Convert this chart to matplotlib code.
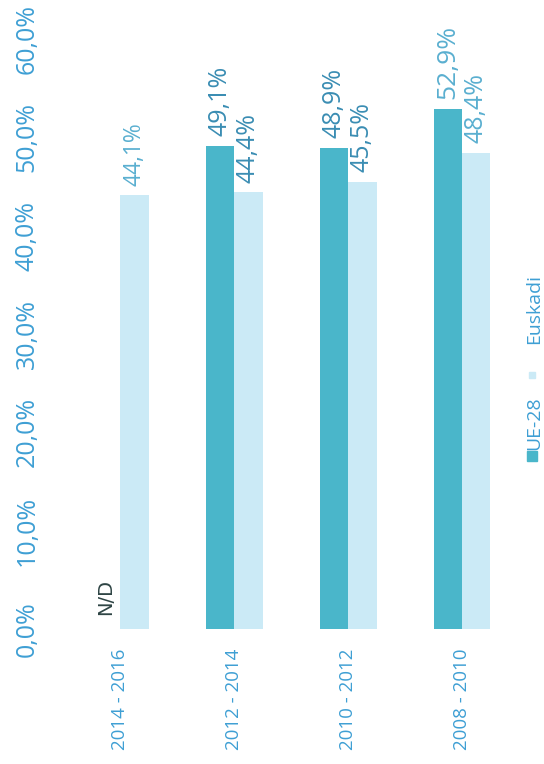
import numpy as np
import matplotlib
matplotlib.use("Agg")
import matplotlib.pyplot as plt
from matplotlib.patches import Rectangle
from matplotlib import font_manager as fm

categories = ["2014 - 2016", "2012 - 2014", "2010 - 2012", "2008 - 2010"]
ue28 = [np.nan, 49.1, 48.9, 52.9]
euskadi = [44.1, 44.4, 45.5, 48.4]
ue_labels = ["N/D", "49,1%", "48,9%", "52,9%"]
eus_labels = ["44,1%", "44,4%", "45,5%", "48,4%"]
yticks = [0, 10, 20, 30, 40, 50, 60]
ytick_labels = ["0,0%", "10,0%", "20,0%", "30,0%", "40,0%", "50,0%", "60,0%"]
series_names = ["UE-28", "Euskadi"]

# choose a narrow font if available
try:
    fm.findfont(fm.FontProperties(family="Liberation Sans Narrow"),
                fallback_to_default=False)
    FONT = "Liberation Sans Narrow"
    NARROW = True
except Exception:
    FONT = "Open Sans"
    NARROW = False

if NARROW:
    fs_tick, fs_val, fs_val_l, fs_cat, fs_leg = 21, 21, 19, 16, 17
else:
    fs_tick, fs_val, fs_val_l, fs_cat, fs_leg = 18, 18, 16.5, 13.5, 14

dark = "#4AB6CA"
light = "#CBEAF6"
tick_blue = "#3E9FD4"

fig = plt.figure(figsize=(5.44, 7.64), dpi=100)
ax = fig.add_axes([0.116, 0.1767, 0.838, 0.7723])

x = np.arange(len(categories))
w = 0.25
ax.bar(x - w / 2, ue28, w, color=dark)
ax.bar(x + w / 2, euskadi, w, color=light)

ax.set_xlim(-0.5, 3.5)
ax.set_ylim(0, 60)
for s in ax.spines.values():
    s.set_visible(False)

ax.set_yticks(yticks)
ax.set_yticklabels(ytick_labels, rotation=90, va="center", color=tick_blue,
                   fontsize=fs_tick, family=FONT)
ax.set_xticks(x)
ax.set_xticklabels(categories, rotation=90, color=tick_blue, fontsize=fs_cat,
                   family=FONT)
ax.tick_params(axis="both", length=0)
ax.tick_params(axis="y", pad=17)
ax.tick_params(axis="x", pad=14)

lab_dark = "#3A8DB3"
lab_light = "#5AAFD0"
for i in range(len(categories)):
    c = lab_light if i in (0, 3) else lab_dark
    if np.isnan(ue28[i]):
        ax.annotate(ue_labels[i], (x[i] - w / 2, 0), xytext=(0, 10),
                    textcoords="offset points", rotation=90, ha="center",
                    va="bottom", fontsize=14, color="#2E4444",
                    family="DejaVu Sans")
    else:
        ax.annotate(ue_labels[i], (x[i] - w / 2, ue28[i]), xytext=(0, 7),
                    textcoords="offset points", rotation=90, ha="center",
                    va="bottom", fontsize=fs_val if i != 3 else fs_val + 1,
                    color=c, family=FONT)
    ax.annotate(eus_labels[i], (x[i] + w / 2, euskadi[i]), xytext=(0, 7),
                textcoords="offset points", rotation=90, ha="center",
                va="bottom", fontsize=fs_val if i != 0 else fs_val_l,
                color=c, family=FONT)

# legend (rotated)
fig.text(0.982, 0.446, series_names[0], rotation=90, ha="center", va="center",
         color=tick_blue, fontsize=fs_leg, family=FONT)
fig.text(0.982, 0.596, series_names[1], rotation=90, ha="center", va="center",
         color=tick_blue, fontsize=fs_leg, family=FONT)
fig.patches.append(Rectangle((0.969, 0.397), 0.018, 0.013, color=dark,
                             transform=fig.transFigure, figure=fig))
fig.patches.append(Rectangle((0.973, 0.505), 0.011, 0.008, color=light,
                             transform=fig.transFigure, figure=fig))

fig.savefig("out.png", dpi=100)
